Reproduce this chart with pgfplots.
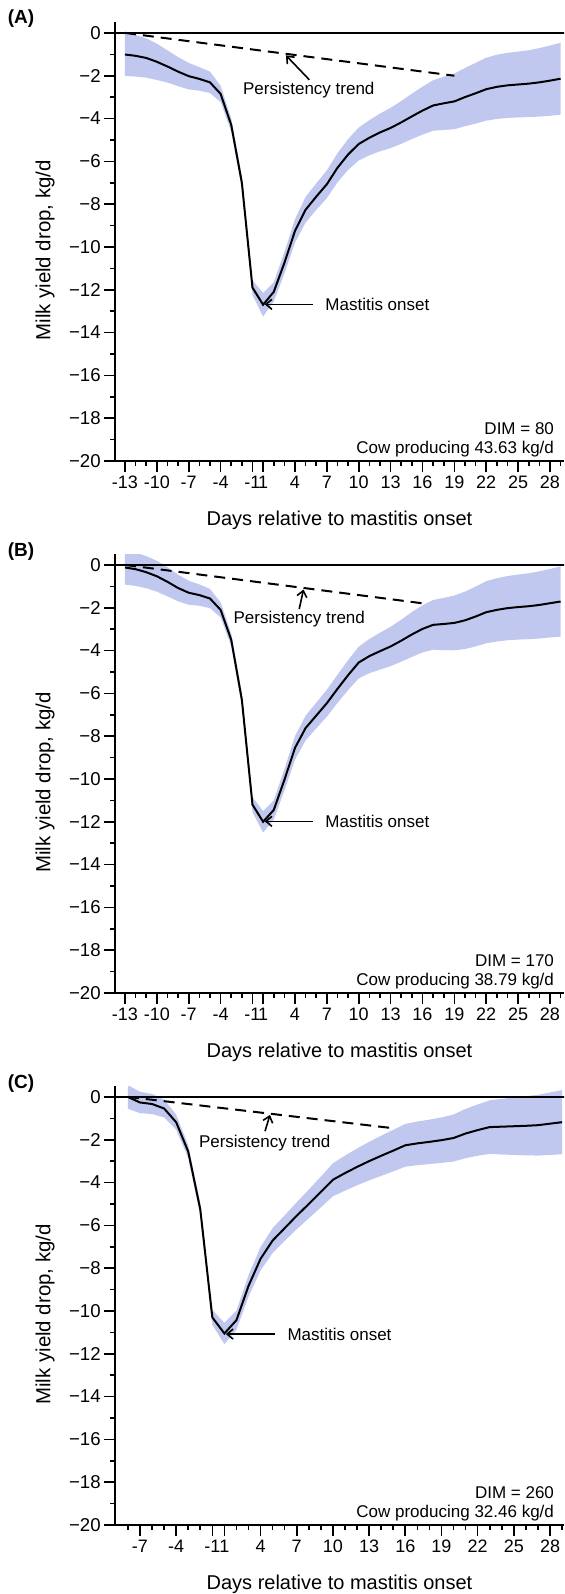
\documentclass[border=0pt]{standalone}
\usepackage{pgfplots}
\pgfplotsset{compat=1.18}
\usepackage{pgfplotstable}
\usepgfplotslibrary{fillbetween}
\usetikzlibrary{arrows.meta}
\usepackage{fontspec}
\setmainfont{Liberation Sans}
\definecolor{bandc}{RGB}{193,200,240}
\newcommand{\anno}{\fontsize{8.5}{10}\selectfont}

% p = plotting position (no day 0: days -13..-1 -> -13..-1, days 1..28 -> 0..27)
\pgfplotstableread{
p m lo hi
-13 -1.01 -2.01 -0.01
-12 -1.07 -2.04 -0.10
-11 -1.17 -2.09 -0.25
-10 -1.35 -2.20 -0.50
-9 -1.57 -2.32 -0.82
-8 -1.81 -2.49 -1.13
-7 -2.02 -2.64 -1.40
-6 -2.15 -2.70 -1.60
-5 -2.31 -2.81 -1.81
-4 -2.85 -3.23 -2.47
-3 -4.30 -4.60 -4.00
-2 -7.00 -7.30 -6.70
-1 -11.90 -12.25 -11.55
0 -12.70 -13.25 -12.15
1 -12.10 -12.55 -11.65
2 -10.75 -11.25 -10.25
3 -9.25 -9.80 -8.70
4 -8.26 -8.86 -7.66
5 -7.65 -8.27 -7.03
6 -7.07 -7.72 -6.42
7 -6.30 -6.98 -5.62
8 -5.68 -6.40 -4.96
9 -5.19 -5.96 -4.42
10 -4.90 -5.72 -4.08
11 -4.65 -5.53 -3.77
12 -4.44 -5.38 -3.50
13 -4.18 -5.18 -3.18
14 -3.90 -4.96 -2.84
15 -3.63 -4.75 -2.51
16 -3.39 -4.57 -2.21
17 -3.29 -4.53 -2.05
18 -3.20 -4.50 -1.90
19 -3.00 -4.36 -1.64
20 -2.82 -4.24 -1.40
21 -2.63 -4.10 -1.16
22 -2.52 -4.02 -1.02
23 -2.45 -3.97 -0.93
24 -2.41 -3.95 -0.87
25 -2.37 -3.93 -0.81
26 -2.31 -3.91 -0.71
27 -2.23 -3.87 -0.59
28 -2.14 -3.82 -0.46
}\tabA

\pgfplotstableread{
p m lo hi
-13 -0.12 -0.92 0.68
-12 -0.20 -0.98 0.58
-11 -0.34 -1.09 0.41
-10 -0.53 -1.25 0.19
-9 -0.79 -1.47 -0.11
-8 -1.08 -1.70 -0.46
-7 -1.30 -1.86 -0.74
-6 -1.41 -1.91 -0.91
-5 -1.57 -2.02 -1.12
-4 -2.10 -2.45 -1.75
-3 -3.50 -3.80 -3.20
-2 -6.30 -6.60 -6.00
-1 -11.20 -11.55 -10.85
0 -12.00 -12.50 -11.50
1 -11.45 -11.90 -11.00
2 -10.05 -10.55 -9.55
3 -8.55 -9.10 -8.00
4 -7.62 -8.20 -7.04
5 -7.04 -7.64 -6.44
6 -6.46 -7.09 -5.83
7 -5.79 -6.45 -5.13
8 -5.15 -5.85 -4.45
9 -4.56 -5.30 -3.82
10 -4.26 -5.06 -3.46
11 -4.03 -4.89 -3.17
12 -3.81 -4.73 -2.89
13 -3.54 -4.52 -2.56
14 -3.25 -4.30 -2.20
15 -2.99 -4.09 -1.89
16 -2.80 -3.96 -1.64
17 -2.76 -3.98 -1.54
18 -2.71 -3.99 -1.43
19 -2.59 -3.93 -1.25
20 -2.41 -3.81 -1.01
21 -2.21 -3.66 -0.76
22 -2.10 -3.58 -0.62
23 -2.02 -3.52 -0.52
24 -1.97 -3.49 -0.45
25 -1.93 -3.47 -0.39
26 -1.87 -3.44 -0.30
27 -1.79 -3.39 -0.19
28 -1.71 -3.35 -0.07
}\tabB

\pgfplotstableread{
p m lo hi
-8 0.00 -0.55 0.55
-7 -0.26 -0.76 0.24
-6 -0.33 -0.80 0.14
-5 -0.54 -0.96 -0.12
-4 -1.18 -1.53 -0.83
-3 -2.55 -2.85 -2.25
-2 -5.25 -5.55 -4.95
-1 -10.30 -10.65 -9.95
0 -11.05 -11.55 -10.55
1 -10.43 -10.88 -9.98
2 -8.83 -9.33 -8.33
3 -7.56 -8.11 -7.01
4 -6.71 -7.29 -6.13
5 -6.13 -6.73 -5.53
6 -5.55 -6.18 -4.92
7 -5.00 -5.67 -4.33
8 -4.44 -5.16 -3.72
9 -3.87 -4.64 -3.10
10 -3.56 -4.38 -2.74
11 -3.27 -4.13 -2.41
12 -3.00 -3.90 -2.10
13 -2.75 -3.69 -1.81
14 -2.51 -3.48 -1.54
15 -2.26 -3.26 -1.26
16 -2.17 -3.19 -1.15
17 -2.10 -3.14 -1.06
18 -2.02 -3.08 -0.96
19 -1.92 -3.02 -0.82
20 -1.71 -2.86 -0.56
21 -1.55 -2.75 -0.35
22 -1.41 -2.66 -0.16
23 -1.39 -2.69 -0.09
24 -1.37 -2.71 -0.03
25 -1.35 -2.73 0.03
26 -1.32 -2.74 0.10
27 -1.25 -2.71 0.21
28 -1.18 -2.68 0.32
}\tabC

\pgfplotsset{
  panel/.style={
    scale only axis, width=224.5pt, height=219.4pt,
    ymin=-20, ymax=0.5,
    axis x line*=bottom, axis y line*=left,
    axis line style={line width=1pt},
    tick align=outside,
    major tick length=5.5pt, minor tick length=2.5pt,
    tick style={black, line width=0.8pt},
    ytick={0,-2,-4,-6,-8,-10,-12,-14,-16,-18,-20},
    yticklabels={0,−2,−4,−6,−8,−10,−12,−14,−16,−18,−20},
    minor ytick={-1,-3,-5,-7,-9,-11,-13,-15,-17,-19},
    yticklabel style={font=\fontsize{9.3}{11}\selectfont, inner sep=1.5pt},
    xticklabel style={font=\fontsize{9}{11}\selectfont, inner sep=2pt},
    xlabel={Days relative to mastitis onset},
    ylabel={Milk yield drop, kg/d},
    xlabel style={at={(rel axis cs:0.5,0)}, anchor=center, yshift=-29.5pt, font=\fontsize{10}{12}\selectfont},
    ylabel style={at={(rel axis cs:0,0.48)}, anchor=center, yshift=35pt, font=\fontsize{10.2}{12}\selectfont},
  },
  longx/.style={
    xmin=-13.94, xmax=28.32,
    xtick={-13,-10,-7,-4,-1,0,3,6,9,12,15,18,21,24,27},
    xticklabels={-13,-10,-7,-4,-1,1,4,7,10,13,16,19,22,25,28},
    minor xtick={-13,-12,...,28},
  },
  shortx/.style={
    xmin=-9.07, xmax=28.16,
    xtick={-7,-4,-1,0,3,6,9,12,15,18,21,24,27},
    xticklabels={-7,-4,-1,1,4,7,10,13,16,19,22,25,28},
    minor xtick={-8,-7,...,28},
  },
  band/.style={fill=bandc, draw=none},
  meanline/.style={black, line width=1pt},
  trendline/.style={black, line width=1pt, dash pattern=on 5.5pt off 3.5pt},
}

\begin{document}
\begin{tikzpicture}

\node[font=\bfseries\fontsize{9.5}{11}\selectfont] at (10.5pt,-9.5pt) {(A)};
\node[font=\bfseries\fontsize{9.5}{11}\selectfont] at (10.5pt,-275.9pt) {(B)};
\node[font=\bfseries\fontsize{9.5}{11}\selectfont] at (10.5pt,-541.9pt) {(C)};

% ---------- (A) ----------
\begin{axis}[panel, longx, at={(57.5pt,-230.5pt)}, anchor=south west]
  \addplot[name path=hiA, draw=none] table[x=p, y=hi] {\tabA};
  \addplot[name path=loA, draw=none] table[x=p, y=lo] {\tabA};
  \addplot[band] fill between[of=hiA and loA];
  \draw[black, line width=1pt] (axis cs:-20,0) -- (axis cs:40,0);
  \addplot[trendline] coordinates {(-13,0) (18,-2)};
  \addplot[meanline] table[x=p, y=m] {\tabA};
  \draw[line width=0.8pt, -{Straight Barb[length=3pt,width=5pt]}] (axis cs:4.35,-2.19) -- (axis cs:2.15,-1.05);
  \node[font=\anno] at (axis cs:4.3,-2.66) {Persistency trend};
  \draw[line width=0.8pt, -{Straight Barb[length=3pt,width=5pt]}] (axis cs:4.69,-12.68) -- (axis cs:0.15,-12.68);
  \node[font=\anno, anchor=west] at (axis cs:5.2,-12.68) {Mastitis onset};
  \node[font=\anno, anchor=east, xshift=-1.5pt, yshift=16pt] at (rel axis cs:1,0) {DIM = 80};
  \node[font=\anno, anchor=east, xshift=-1.5pt, yshift=6pt] at (rel axis cs:1,0) {Cow producing 43.63 kg/d};
\end{axis}

% ---------- (B) ----------
\begin{axis}[panel, longx, at={(57.5pt,-496.5pt)}, anchor=south west]
  \addplot[name path=hiB, draw=none] table[x=p, y=hi] {\tabB};
  \addplot[name path=loB, draw=none] table[x=p, y=lo] {\tabB};
  \addplot[band] fill between[of=hiB and loB];
  \draw[black, line width=1pt] (axis cs:-20,0) -- (axis cs:40,0);
  \addplot[trendline] coordinates {(-13,0) (15.1,-1.8)};
  \addplot[meanline] table[x=p, y=m] {\tabB};
  \draw[line width=0.8pt, -{Straight Barb[length=3pt,width=5pt]}] (axis cs:3.4,-2.06) -- (axis cs:3.8,-1.15);
  \node[font=\anno] at (axis cs:3.4,-2.55) {Persistency trend};
  \draw[line width=0.8pt, -{Straight Barb[length=3pt,width=5pt]}] (axis cs:4.69,-11.98) -- (axis cs:0.15,-11.98);
  \node[font=\anno, anchor=west] at (axis cs:5.2,-11.98) {Mastitis onset};
  \node[font=\anno, anchor=east, xshift=-1.5pt, yshift=16pt] at (rel axis cs:1,0) {DIM = 170};
  \node[font=\anno, anchor=east, xshift=-1.5pt, yshift=6pt] at (rel axis cs:1,0) {Cow producing 38.79 kg/d};
\end{axis}

% ---------- (C) ----------
\begin{axis}[panel, shortx, at={(57.5pt,-762.5pt)}, anchor=south west]
  \addplot[name path=hiC, draw=none] table[x=p, y=hi] {\tabC};
  \addplot[name path=loC, draw=none] table[x=p, y=lo] {\tabC};
  \addplot[band] fill between[of=hiC and loC];
  \draw[black, line width=1pt] (axis cs:-20,0) -- (axis cs:40,0);
  \addplot[trendline] coordinates {(-8,0) (13.8,-1.45)};
  \addplot[meanline] table[x=p, y=m] {\tabC};
  \draw[line width=0.8pt, -{Straight Barb[length=3pt,width=5pt]}] (axis cs:3.37,-1.6) -- (axis cs:3.78,-0.84);
  \node[font=\anno] at (axis cs:3.34,-2.14) {Persistency trend};
  \draw[line width=0.8pt, -{Straight Barb[length=3pt,width=5pt]}] (axis cs:4.19,-11.08) -- (axis cs:0.12,-11.08);
  \node[font=\anno, anchor=west] at (axis cs:4.65,-11.08) {Mastitis onset};
  \node[font=\anno, anchor=east, xshift=-1.5pt, yshift=16pt] at (rel axis cs:1,0) {DIM = 260};
  \node[font=\anno, anchor=east, xshift=-1.5pt, yshift=6pt] at (rel axis cs:1,0) {Cow producing 32.46 kg/d};
\end{axis}

\pgfresetboundingbox
\path[use as bounding box] (0,0) rectangle (282pt,-797pt);
\end{tikzpicture}
\end{document}
